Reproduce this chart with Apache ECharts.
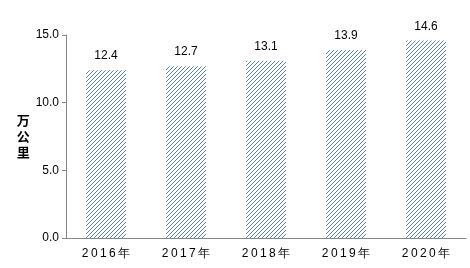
<!DOCTYPE html>
<html><head><meta charset="utf-8">
<script src="https://cdn.jsdelivr.net/npm/echarts@6/dist/echarts.min.js"></script>
<style>html,body{margin:0;padding:0;background:#fff;}#c{width:470px;height:268px;}</style>
</head><body><div id="c"></div>
<script>
const categories = ['2016年','2017年','2018年','2019年','2020年'];
const values = [12.4, 12.7, 13.1, 13.9, 14.6];
const yTicks = [0, 5, 10, 15];

function hatch(){
  const n = 4;
  const cv = document.createElement('canvas');
  cv.width = n; cv.height = n;
  const ctx = cv.getContext('2d');
  ctx.fillStyle = '#ffffff';
  ctx.fillRect(0,0,n,n);
  ctx.fillStyle = '#5b84ad';
  for (let x=0;x<n;x++) for (let y=0;y<n;y++) if ((x+y)%n===n-1) ctx.fillRect(x,y,1,1);
  return cv;
}

const chart = echarts.init(document.getElementById('c'), null, {renderer:'canvas'});
chart.setOption({
  animation:false,
  grid:{left:66,right:4,top:35,bottom:30},
  xAxis:{type:'category',data:categories,
    axisLine:{lineStyle:{color:'#868686'}},
    axisTick:{show:false},
    axisLabel:{color:'#000',fontSize:12,fontFamily:'Liberation Sans, Arial',margin:10,
      formatter:v=>v.slice(0,4).split('').join('\u2009')+'\u2009'+v.slice(4)}},
  yAxis:{type:'value',min:0,max:15,interval:5,
    name:'万\n公\n里',nameLocation:'middle',nameGap:36,nameRotate:0,
    nameTextStyle:{color:'#000',fontSize:13,fontWeight:'bold',fontFamily:'Noto Sans CJK SC',lineHeight:16,padding:[0,0,12,0]},
    axisLine:{show:true,lineStyle:{color:'#868686'}},
    axisTick:{show:true,length:4,lineStyle:{color:'#868686'}},
    splitLine:{show:false},
    axisLabel:{color:'#000',fontSize:12,fontFamily:'Liberation Sans, Arial',margin:7,
      formatter:v=>v.toFixed(1)}},
  series:[{type:'bar',data:values,barWidth:40,
    itemStyle:{color:{image:hatch(),repeat:'repeat'}},
    label:{show:true,position:'top',distance:8,color:'#000',fontSize:12,fontFamily:'Liberation Sans, Arial',
      formatter:p=>p.value.toFixed(1)}}]
});
</script></body></html>
